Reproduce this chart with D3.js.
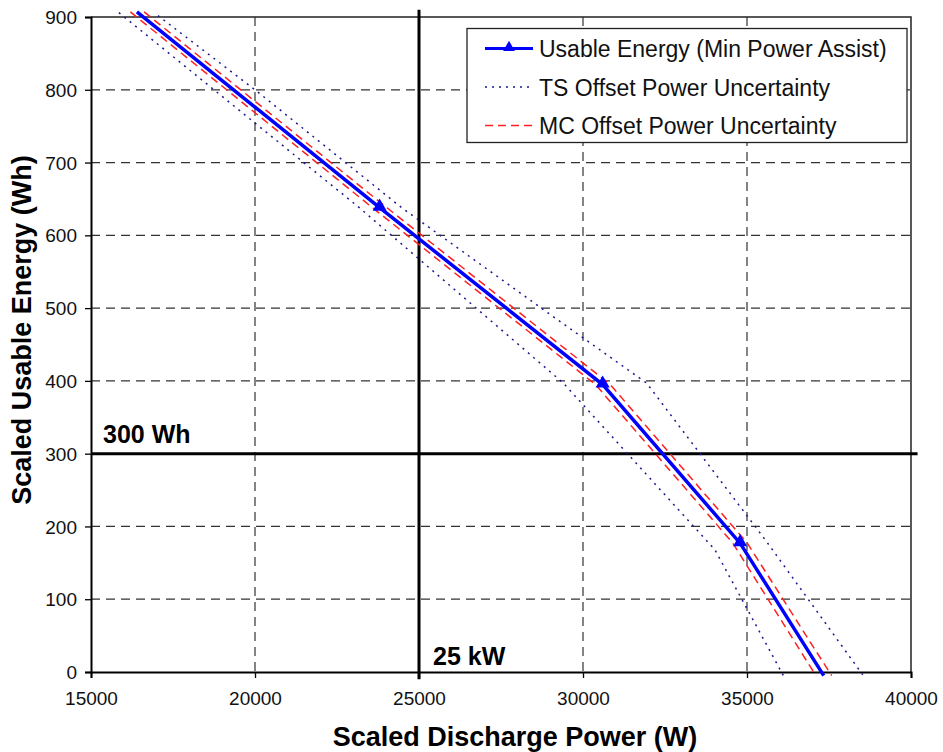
<!DOCTYPE html>
<html>
<head>
<meta charset="utf-8">
<script src="https://cdn.jsdelivr.net/npm/d3@7"></script>
<style>
  body { margin: 0; background: #fff; }
  svg { font-family: "Liberation Sans", Arial, sans-serif; }
</style>
</head>
<body>
<svg id="chart" width="943" height="752"></svg>
<script>
// values
const mainPower   = [16400, 23800, 30600, 34790, 37340];
const mainEnergy  = [907, 638, 395, 177, -5];

const mcLowPower  = [16200, 23580, 30380, 34570, 37100];
const mcLowEnergy = [907, 638, 395, 177, -5];
const mcHighPower = [16620, 24020, 30830, 35010, 37580];
const mcHighEnergy = [907, 638, 395, 177, -5];

const tsLowPower   = [15850, 23180, 29400, 34020, 36110];
const tsLowEnergy  = [906, 638, 397, 168, -5];
const tsHighPower  = [17040, 20000, 24470, 29100, 31940, 35600, 38530];
const tsHighEnergy = [902, 800, 638, 488, 397, 179, -4];

const xTicks = [15000, 20000, 25000, 30000, 35000, 40000];
const yTicks = [0, 100, 200, 300, 400, 500, 600, 700, 800, 900];

const refPower = 25000;   // 25 kW marker line
const refEnergy = 300;    // 300 Wh marker line

const legendLabels = ['Usable Energy (Min Power Assist)', 'TS Offset Power Uncertainty', 'MC Offset Power Uncertainty'];

const plotLeft = 91, plotRight = 911, plotTop = 17, plotBottom = 672;
const svg = d3.select('#chart');

const x = d3.scaleLinear().domain([15000, 40000]).range([plotLeft, plotRight]);
const y = d3.scaleLinear().domain([0, 900]).range([plotBottom, plotTop]);

const zip = (xs, ys) => xs.map((v, i) => [v, ys[i]]);
const line = d3.line().x(d => x(d[0])).y(d => y(d[1]));

// dashed grid
svg.append('g')
  .selectAll('line')
  .data(xTicks.filter(t => t !== 15000 && t !== 40000 && t !== refPower))
  .join('line')
  .attr('x1', d => x(d)).attr('x2', d => x(d))
  .attr('y1', plotTop).attr('y2', plotBottom)
  .attr('stroke', '#333').attr('stroke-width', 1.2)
  .attr('stroke-dasharray', '9,6');

svg.append('g')
  .selectAll('line')
  .data(yTicks.filter(t => t !== 0 && t !== 900 && t !== refEnergy))
  .join('line')
  .attr('x1', plotLeft).attr('x2', plotRight)
  .attr('y1', d => y(d)).attr('y2', d => y(d))
  .attr('stroke', '#333').attr('stroke-width', 1.2)
  .attr('stroke-dasharray', '9,6');

// plot border (top / right)
svg.append('path')
  .attr('d', `M${plotLeft},${plotTop}H${plotRight}V${plotBottom}`)
  .attr('fill', 'none').attr('stroke', '#222').attr('stroke-width', 1.5);

// axes
const gx = svg.append('g').attr('transform', `translate(0,${plotBottom})`)
  .call(d3.axisBottom(x).tickValues(xTicks).tickSize(6).tickPadding(9).tickFormat(d3.format('d')));
const gy = svg.append('g').attr('transform', `translate(${plotLeft},0)`)
  .call(d3.axisLeft(y).tickValues(yTicks).tickSize(6).tickPadding(8).tickFormat(d3.format('d')));
[gx, gy].forEach(g => {
  g.select('.domain').attr('stroke', '#000').attr('stroke-width', 2);
  g.selectAll('.tick line').attr('stroke', '#000').attr('stroke-width', 1.3);
  g.selectAll('text').attr('font-size', 19).attr('fill', '#111')
    .attr('font-family', '"Liberation Sans", Arial, sans-serif');
});
gx.selectAll('text').attr('dy', '0.95em');
gy.selectAll('text').attr('dy', '0.35em');

// reference lines
svg.append('line')
  .attr('x1', x(refPower)).attr('x2', x(refPower))
  .attr('y1', y(910)).attr('y2', y(-10))
  .attr('stroke', '#000').attr('stroke-width', 3);
svg.append('line')
  .attr('x1', plotLeft).attr('x2', x(40200))
  .attr('y1', y(refEnergy)).attr('y2', y(refEnergy))
  .attr('stroke', '#000').attr('stroke-width', 3);

// series
const tsColor = '#1a1a8c', mcColor = '#ff2020', mainColor = '#0000ff';
[zip(tsLowPower, tsLowEnergy), zip(tsHighPower, tsHighEnergy)].forEach(pts => {
  svg.append('path').attr('d', line(pts))
    .attr('fill', 'none').attr('stroke', tsColor).attr('stroke-width', 1.5)
    .attr('stroke-dasharray', '2,5');
});
[zip(mcLowPower, mcLowEnergy), zip(mcHighPower, mcHighEnergy)].forEach(pts => {
  svg.append('path').attr('d', line(pts))
    .attr('fill', 'none').attr('stroke', mcColor).attr('stroke-width', 1.5)
    .attr('stroke-dasharray', '8,5');
});
const mainPts = zip(mainPower, mainEnergy);
svg.append('path').attr('d', line(mainPts))
  .attr('fill', 'none').attr('stroke', mainColor).attr('stroke-width', 3.5);

const tri = d3.symbol().type(d3.symbolTriangle).size(85);
svg.append('g')
  .selectAll('path')
  .data(mainPts.filter(d => d[1] >= 0 && d[1] <= 900))
  .join('path')
  .attr('d', tri)
  .attr('transform', d => `translate(${x(d[0])},${y(d[1]) - 1})`)
  .attr('fill', mainColor);

// annotations
svg.append('text').attr('x', 103).attr('y', 443)
  .attr('font-size', 25).attr('font-weight', 'bold').text('300 Wh');
svg.append('text').attr('x', 433).attr('y', 665)
  .attr('font-size', 25).attr('font-weight', 'bold').text('25 kW');

// axis titles
svg.append('text').attr('x', 515).attr('y', 746)
  .attr('text-anchor', 'middle').attr('font-size', 27).attr('font-weight', 'bold')
  .text('Scaled Discharge Power (W)');
svg.append('text')
  .attr('transform', 'translate(31,330) rotate(-90)')
  .attr('text-anchor', 'middle').attr('font-size', 27).attr('font-weight', 'bold')
  .text('Scaled Usable Energy (Wh)');

// legend
const legend = svg.append('g');
legend.append('rect')
  .attr('x', 467).attr('y', 28.5).attr('width', 440).attr('height', 114)
  .attr('fill', '#fff').attr('stroke', '#222').attr('stroke-width', 1.3);
const rows = legend.selectAll('g.row')
  .data(legendLabels)
  .join('g').attr('class', 'row')
  .attr('transform', (d, i) => `translate(0,${48.5 + i * 38.5})`);
rows.append('line')
  .attr('x1', 485).attr('x2', 533).attr('y1', 0).attr('y2', 0)
  .attr('stroke', (d, i) => [mainColor, tsColor, mcColor][i])
  .attr('stroke-width', (d, i) => i === 0 ? 3 : 1.5)
  .attr('stroke-dasharray', (d, i) => [null, '2,5', '8,5'][i]);
rows.filter((d, i) => i === 0).append('path')
  .attr('d', d3.symbol().type(d3.symbolTriangle).size(60))
  .attr('transform', 'translate(509,-1)')
  .attr('fill', mainColor);
rows.append('text')
  .attr('x', 539).attr('y', 8.5)
  .attr('font-size', 23).attr('fill', '#111')
  .text(d => d);
</script>
</body>
</html>
